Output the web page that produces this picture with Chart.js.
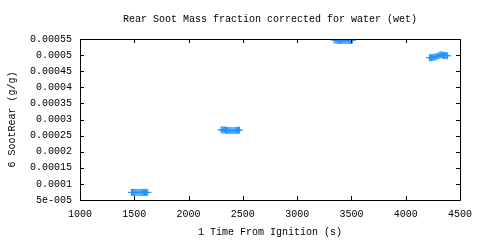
<!DOCTYPE html>
<html>
<head>
<meta charset="utf-8">
<script src="https://cdn.jsdelivr.net/npm/chart.js@4/dist/chart.umd.min.js"></script>
<style>
html,body{margin:0;padding:0;background:#fff;}
#wrap{width:480px;height:240px;}
</style>
</head>
<body>
<div id="wrap"><canvas id="c" width="480" height="240"></canvas></div>
<script>
const titleText = "Rear Soot Mass fraction corrected for water (wet)";
const xTitle = "1 Time From Ignition (s)";
const yTitle = "6 SootRear (g/g)";

const timeSec = [
  1474, 1484, 1494, 1504, 1514, 1524, 1534, 1544, 1554, 1564, 1574, 1584, 1594, 1604, 1614, 1624,
  2300, 2310, 2320, 2330, 2340, 2350, 2360, 2370, 2380, 2390, 2400, 2410, 2420, 2430, 2440, 2450, 2460, 2468,
  3340, 3350, 3360, 3370, 3380, 3390, 3400, 3410, 3420, 3430, 3440, 3450, 3460, 3470, 3480, 3490, 3500, 3508,
  4218, 4228, 4238, 4248, 4258, 4268, 4278, 4288, 4298, 4308, 4318, 4328, 4338, 4348, 4358, 4368, 4378, 4386
];
const sootRear = [
  0.0000735, 0.0000736, 0.0000735, 0.0000734, 0.0000735, 0.0000736, 0.0000735, 0.0000734, 0.0000735, 0.0000735, 0.0000736, 0.0000735, 0.0000734, 0.0000735, 0.0000736, 0.0000735,
  0.000268, 0.000268, 0.000267, 0.000268, 0.000267, 0.000266, 0.000266, 0.000266, 0.000265, 0.000266, 0.000266, 0.000265, 0.000266, 0.000266, 0.000266, 0.000266, 0.000267, 0.000267,
  0.000547, 0.000547, 0.000546, 0.000546, 0.000546, 0.000546, 0.000546, 0.000546, 0.000546, 0.000546, 0.000545, 0.000545, 0.000545, 0.000545, 0.000545, 0.000545, 0.000546, 0.000546,
  0.000492, 0.000492, 0.000492, 0.000493, 0.000493, 0.000494, 0.000495, 0.000496, 0.000497, 0.000499, 0.000501, 0.000501, 0.000500, 0.000499, 0.000499, 0.000499, 0.000498, 0.000498
];
const xTicks = [1000, 1500, 2000, 2500, 3000, 3500, 4000, 4500];
const yTicks = [0.00005, 0.0001, 0.00015, 0.0002, 0.00025, 0.0003, 0.00035, 0.0004, 0.00045, 0.0005, 0.00055];
const yTickLabels = ["5e-005", "0.0001", "0.00015", "0.0002", "0.00025", "0.0003", "0.00035", "0.0004", "0.00045", "0.0005", "0.00055"];

const FONT = "'Liberation Mono', 'DejaVu Sans Mono', monospace";

const frame = {
  id: 'frame',
  afterDatasetsDraw(chart) {
    const ctx = chart.ctx, a = chart.chartArea;
    const xs = chart.scales.x, ys = chart.scales.y;
    ctx.save();
    ctx.strokeStyle = '#000';
    ctx.lineWidth = 1;
    ctx.beginPath();
    ctx.rect(Math.round(a.left) + 0.5, Math.round(a.top) + 0.5, Math.round(a.right - a.left), Math.round(a.bottom - a.top));
    const L = 4;
    xTicks.forEach(v => {
      const px = Math.round(xs.getPixelForValue(v)) + 0.5;
      ctx.moveTo(px, a.bottom); ctx.lineTo(px, a.bottom - L);
      ctx.moveTo(px, a.top); ctx.lineTo(px, a.top + L);
    });
    yTicks.forEach(v => {
      const py = Math.round(ys.getPixelForValue(v)) + 0.5;
      ctx.moveTo(a.left, py); ctx.lineTo(a.left + L, py);
      ctx.moveTo(a.right, py); ctx.lineTo(a.right - L, py);
    });
    ctx.stroke();
    // title centred over the plot area
    ctx.fillStyle = '#000';
    ctx.font = "10px " + FONT;
    ctx.textAlign = 'center';
    ctx.textBaseline = 'middle';
    ctx.fillText(titleText, (a.left + a.right) / 2, 19);
    ctx.restore();
  }
};

new Chart(document.getElementById('c'), {
  type: 'scatter',
  data: {
    datasets: [{
      data: timeSec.map((t, i) => ({x: t, y: sootRear[i]})),
      pointStyle: 'cross',
      pointRadius: 3.5,
      borderWidth: 1,
      borderColor: '#1E90FF',
      backgroundColor: '#1E90FF',
      pointHoverRadius: 3.5
    }]
  },
  options: {
    responsive: false,
    animation: false,
    events: [],
    layout: {padding: {left: 0, right: 18, top: 39, bottom: 0}},
    plugins: {
      legend: {display: false},
      tooltip: {enabled: false},
      title: {display: false}
    },
    scales: {
      x: {
        type: 'linear',
        min: 1000, max: 4500,
        afterBuildTicks: s => { s.ticks = xTicks.map(v => ({value: v})); },
        afterFit: s => { s.height = 40; },
        grid: {display: false, drawTicks: false},
        border: {display: false},
        ticks: {
          color: '#000', padding: 8, maxRotation: 0,
          font: {family: FONT, size: 10},
          callback: v => String(v)
        },
        title: {
          display: true, text: xTitle, color: '#000',
          font: {family: FONT, size: 10},
          padding: {top: 4, bottom: 2}
        }
      },
      y: {
        type: 'linear',
        min: 0.00005, max: 0.00055,
        afterBuildTicks: s => { s.ticks = yTicks.map(v => ({value: v})); },
        afterFit: s => { s.width = 80; },
        grid: {display: false, drawTicks: false},
        border: {display: false},
        ticks: {
          color: '#000', padding: 8,
          font: {family: FONT, size: 10},
          callback: (v, i) => yTickLabels[i]
        },
        title: {
          display: true, text: yTitle, color: '#000',
          font: {family: FONT, size: 10},
          padding: {top: 6, bottom: 0}
        }
      }
    }
  },
  plugins: [frame]
});
</script>
</body>
</html>
